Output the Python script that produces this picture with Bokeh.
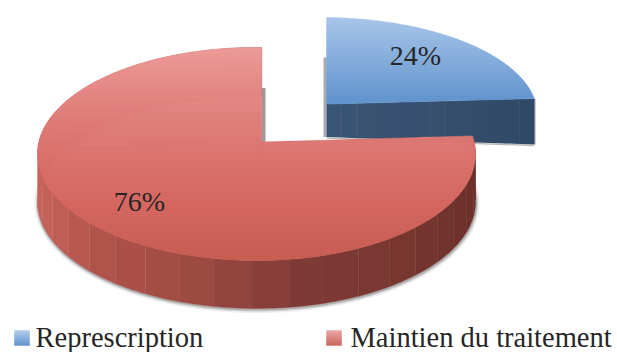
import numpy as np
from bokeh.plotting import figure
from bokeh.models import Range1d
from bokeh.core.properties import value
from bokeh.embed import file_html
from bokeh.resources import INLINE

# ---- data
categories = ["Represcription", "Maintien du traitement"]
values = [24, 76]
labels = ["24%", "76%"]

# ---- style (reference pixel coordinates are used as data coordinates)
W, H = 617, 352
FONT = "Liberation Serif"
CX, CY, RX, RY = 256.0, 153.5, 219.0, 106.5
TILT_X, TILT_Y = 0.023, 0.112
START_DEG = 89.8
TOP_STOPS = [
    [(17, "#a6c4e8"), (100, "#5f93cd")],
    [(47, "#ee9c9a"), (120, "#de7c78"), (200, "#d5645e"), (262, "#c55a4e")],
]
SIDE_STOPS = [(37, "#c8655d"), (100, "#b0534b"), (200, "#9c4a42"),
              (300, "#7f3b35"), (400, "#77372f"), (475, "#6c302b")]
CUT_STOPS = [(326, "#3a5473"), (430, "#364f6d"), (536, "#2f4866")]
OFFSETS = [(65, -38), (0, 0)]
SCALES = [(0.985, 0.915), (1, 1)]
DEPTHS = [(33, 46), (48, 48)]
LABEL_POS = [(415, 55), (139, 201)]
LEGEND_X = [14, 326]
LEGEND_TEXT_X = [35, 350]
LEGEND_Y = 330
LEGEND_SWATCH = 15
LEGEND_TEXT_Y = 337
LEGEND_STOPS = [[(0, "#a8c6ea"), (1, "#4f86c6")], [(0, "#e89a96"), (1, "#c4544c")]]


def hexrgb(c):
    return np.array([int(c[i:i + 2], 16) for i in (1, 3, 5)], float)


def ramp(stops, t):
    xs = [s[0] for s in stops]
    cs = np.array([hexrgb(s[1]) for s in stops])
    r = [np.interp(t, xs, cs[:, k]) for k in range(3)]
    return "#%02x%02x%02x" % tuple(int(round(v)) for v in r)


def warp(u, v):
    u1 = (u + TILT_X) / (1 + TILT_X * u)
    v1 = v * np.sqrt(1 - TILT_X ** 2) / (1 + TILT_X * u)
    v2 = (v1 + TILT_Y) / (1 + TILT_Y * v1)
    u2 = u1 * np.sqrt(1 - TILT_Y ** 2) / (1 + TILT_Y * v1)
    return CX + RX * u2, CY - RY * v2


def clip(poly, y0, y1):
    def half(pts, keep, edge):
        out = []
        for i in range(len(pts)):
            a, b = pts[i], pts[(i + 1) % len(pts)]
            ka, kb = keep(a[1]), keep(b[1])
            if ka:
                out.append(a)
            if ka != kb:
                t = (edge - a[1]) / (b[1] - a[1])
                out.append((a[0] + t * (b[0] - a[0]), edge))
        return out
    r = half(poly, lambda y: y >= y0, y0)
    if r:
        r = half(r, lambda y: y <= y1, y1)
    return r


p = figure(width=W, height=H, x_range=Range1d(0, W), y_range=Range1d(H, 0),
           toolbar_location=None, output_backend="svg", min_border=0)
p.axis.visible = False
p.grid.visible = False
p.outline_line_color = None
p.background_fill_color = "white"
p.border_fill_color = "white"

# slice angles from the values
total = sum(values)
sweeps = [2 * np.pi * v / total for v in values]
starts = np.radians(START_DEG) - np.concatenate([[0], np.cumsum(sweeps)[:-1]])


def slice_geom(i, n=221):
    phis = np.linspace(starts[i], starts[i] - sweeps[i], n)
    ax, ay = warp(0.0, 0.0)
    x, y = warp(np.cos(phis), np.sin(phis))
    sx, sy = SCALES[i]
    ox, oy = OFFSETS[i]
    x = ax + (x - ax) * sx + ox
    y = ay + (y - ay) * sy + oy
    return ax + ox, ay + oy, x, y


def draw_top(i, ax, ay, x, y, parts):
    # each part is a convex sub-sector, so a horizontal cut stays one piece
    idx = np.linspace(0, len(x) - 1, parts + 1).astype(int)
    for s, e in zip(idx[:-1], idx[1:]):
        poly = [(ax, ay)] + list(zip(x[s:e + 1], y[s:e + 1]))
        ylo = min(q[1] for q in poly)
        yhi = max(q[1] for q in poly)
        bands = np.arange(np.floor(ylo), np.ceil(yhi) + 2, 2.0)
        for a, b in zip(bands[:-1], bands[1:]):
            c = clip(poly, a, b)
            if len(c) >= 3:
                col = ramp(TOP_STOPS[i], (a + b) / 2)
                p.patch([q[0] for q in c], [q[1] for q in c], fill_color=col, line_color=col, line_width=0.6)


# blue slice: back shadow, cut face, top
ax, ay, x, y = slice_geom(0)
d0, d1 = DEPTHS[0]
p.patch([ax - 3, ax, ax, ax - 3], [y[0] + 40, y[0] + 40, ay + d0, ay + d0], fill_color="#8b8f96",
        fill_alpha=0.75, line_color=None)
xs = np.linspace(ax, x[-1], 15)
ys = np.linspace(ay, y[-1], 15)
dep = np.linspace(d0, d1, 15)
for k in range(14):
    p.patch([xs[k], xs[k + 1] + .5, xs[k + 1] + .5, xs[k]],
            [ys[k], ys[k + 1], ys[k + 1] + dep[k + 1], ys[k] + dep[k]],
            fill_color=ramp(CUT_STOPS, xs[k]), line_color=None)
p.line([ax, x[-1]], [ay + d0 + 1, y[-1] + d1 + 1], line_color="#777777", line_alpha=0.5, line_width=1.5)
p.line([x[-1] + 1, x[-1] + 1], [y[-1], y[-1] + d1], line_color="#888888", line_alpha=0.4, line_width=1.5)
draw_top(0, ax, ay, x, y, 1)

# red slice: soft shadow, back cut, side, top
ax, ay, x, y = slice_geom(1)
d = DEPTHS[1][0]
p.patch([ax, ax + 4, ax + 4, ax], [ay - 54, ay - 54, ay, ay], fill_color="#8a7f7f", fill_alpha=0.8, line_color=None)
for w, al in [(7, 0.10), (4, 0.18), (2, 0.28)]:
    p.line(x + .5, y + d + 1, line_color="#555555", line_alpha=al, line_width=w)
step = 7
for k in range(0, len(x) - 1, step):
    e = min(k + step, len(x) - 1)
    xq = list(x[k:e + 1]) + list(x[k:e + 1][::-1])
    yq = list(y[k:e + 1]) + list((y[k:e + 1] + d)[::-1])
    col = ramp(SIDE_STOPS, (x[k] + x[e]) / 2)
    p.patch(xq, yq, fill_color=col, line_color=col, line_width=0.4)
draw_top(1, ax, ay, x, y, 3)

# data labels
p.text(x=[q[0] for q in LABEL_POS], y=[q[1] for q in LABEL_POS], text=labels,
       text_font=value(FONT), text_font_size="28px", text_color="#262626",
       text_align="center", text_baseline="middle")

# legend
for i, name in enumerate(categories):
    for k in range(LEGEND_SWATCH):
        col = ramp(LEGEND_STOPS[i], k / (LEGEND_SWATCH - 1))
        p.quad(left=[LEGEND_X[i]], right=[LEGEND_X[i] + LEGEND_SWATCH], top=[LEGEND_Y + k],
               bottom=[LEGEND_Y + k + 1], fill_color=col, line_color=col, line_width=0.3)
p.text(x=LEGEND_TEXT_X, y=[LEGEND_TEXT_Y] * 2, text=categories, text_font=value(FONT),
       text_font_size="28.5px", text_color="#262626", text_align="left", text_baseline="middle")

open("out.html", "w").write(file_html(p, INLINE))
